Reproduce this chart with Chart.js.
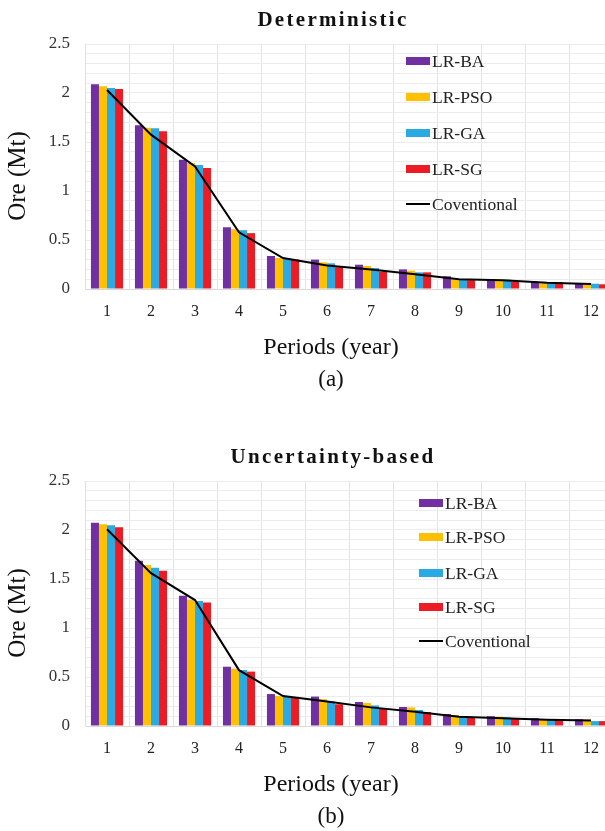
<!DOCTYPE html>
<html><head><meta charset="utf-8">
<script src="https://cdn.jsdelivr.net/npm/chart.js@4.4.0/dist/chart.umd.min.js"></script>
<style>
html,body{margin:0;padding:0;background:#fff;overflow:hidden;width:605px;height:831px}
#wrap{position:relative;width:605px;height:831px;overflow:hidden;background:#fff}
canvas{position:absolute;left:0}
</style></head><body>
<div id="wrap">
<canvas id="c1" width="613" height="437" style="top:0px"></canvas>
<canvas id="c2" width="613" height="394" style="top:437px"></canvas>
</div>
<script>
const categories = ['1','2','3','4','5','6','7','8','9','10','11','12'];
const seriesNames = ['LR-BA','LR-PSO','LR-GA','LR-SG','Coventional'];
const yTickLabels = ['0','0.5','1','1.5','2','2.5'];
const xAxisTitle = 'Periods (year)';
const yAxisTitle = 'Ore (Mt)';

// (a) Deterministic
const detBA  = [2.09, 1.67, 1.32, 0.63, 0.337, 0.30, 0.248, 0.20, 0.13, 0.10, 0.075, 0.061];
const detPSO = [2.07, 1.645, 1.286, 0.61, 0.316, 0.272, 0.235, 0.187, 0.10, 0.09, 0.058, 0.048];
const detGA  = [2.05, 1.64, 1.265, 0.60, 0.316, 0.262, 0.214, 0.17, 0.10, 0.095, 0.058, 0.054];
const detSG  = [2.04, 1.61, 1.235, 0.57, 0.30, 0.222, 0.177, 0.17, 0.09, 0.075, 0.068, 0.048];
const detConv= [2.03, 1.575, 1.25, 0.578, 0.316, 0.24, 0.20, 0.15, 0.10, 0.09, 0.065, 0.05];

// (b) Uncertainty-based
const uncBA  = [2.075, 1.687, 1.33, 0.605, 0.326, 0.30, 0.245, 0.194, 0.122, 0.10, 0.08, 0.068];
const uncPSO = [2.058, 1.643, 1.29, 0.585, 0.306, 0.273, 0.235, 0.19, 0.112, 0.095, 0.068, 0.065];
const uncGA  = [2.048, 1.615, 1.275, 0.571, 0.30, 0.25, 0.21, 0.163, 0.092, 0.088, 0.065, 0.05];
const uncSG  = [2.028, 1.585, 1.26, 0.555, 0.293, 0.222, 0.18, 0.143, 0.088, 0.07, 0.065, 0.05];
const uncConv= [2.007, 1.56, 1.285, 0.57, 0.306, 0.25, 0.19, 0.146, 0.095, 0.08, 0.065, 0.055];

const colors = ['#7030A0','#FFC000','#2AAAE2','#ED1C24','#000000'];
const FONT = '"Liberation Serif", "Times New Roman", serif';

function decor(cfg){
  return {
    id:'decor',
    afterDraw(chart){
      const ctx = chart.ctx;
      ctx.save();
      ctx.fillStyle = '#111';
      ctx.textAlign = 'center';
      ctx.textBaseline = 'alphabetic';
      ctx.font = 'bold 21px ' + FONT;
      if ('letterSpacing' in ctx) ctx.letterSpacing = '2.3px';
      ctx.fillText(cfg.title, 333, 26);
      if ('letterSpacing' in ctx) ctx.letterSpacing = '0px';
      ctx.font = '24px ' + FONT;
      ctx.fillText(xAxisTitle, 331, 354);
      ctx.font = '23px ' + FONT;
      ctx.fillText(cfg.caption, 331, 386);
      ctx.save();
      ctx.translate(18, 176);
      ctx.rotate(-Math.PI/2);
      ctx.font = '25px ' + FONT;
      ctx.textBaseline = 'middle';
      ctx.fillText(yAxisTitle, 0, 0);
      ctx.restore();
      // legend
      ctx.font = '17.5px ' + FONT;
      ctx.textAlign = 'left';
      ctx.textBaseline = 'middle';
      chart.data.datasets.forEach((ds, i) => {
        const y = cfg.legendRows[i];
        const x = cfg.legendX;
        if (ds.type === 'line') {
          ctx.fillStyle = ds.borderColor;
          ctx.fillRect(x, y - 1, 24, 2);
        } else {
          ctx.fillStyle = ds.backgroundColor;
          ctx.fillRect(x, y - 4, 24, 8);
        }
        ctx.fillStyle = '#222';
        ctx.fillText(ds.label, x + 26, y + 1);
      });
      ctx.restore();
    }
  };
}

function makeChart(id, arrs, cfg, canvasH){
  const datasets = arrs.slice(0,4).map((a,i) => ({
    type:'bar', label: seriesNames[i], data: a,
    backgroundColor: colors[i], borderWidth:0,
    categoryPercentage: 0.73, barPercentage: 1.0, order: 2
  }));
  datasets.push({
    type:'line', label: seriesNames[4], data: arrs[4],
    borderColor: colors[4], backgroundColor: colors[4], borderWidth: 2,
    pointRadius: 0, tension: 0, fill: false, order: 0
  });
  return new Chart(document.getElementById(id), {
    type:'bar',
    data:{ labels: categories, datasets },
    options:{
      responsive:false, animation:false,
      layout:{ padding:{ top:44, right:0, left:0, bottom:0 } },
      plugins:{ legend:{display:false}, title:{display:false}, tooltip:{enabled:false} },
      scales:{
        x:{
          grid:{ color:'#e3e3e3', lineWidth:1, drawTicks:false, offset:true },
          border:{ color:'#d9d9d9' },
          ticks:{ color:'#222', font:{ family: FONT, size:16 }, padding:13, maxRotation:0 },
          afterFit(s){ s.height = canvasH - 289; }
        },
        y:{
          min:0, max:2.5,
          grid:{ color:'#ececec', lineWidth:1, drawTicks:false },
          border:{ color:'#e0e0e0' },
          ticks:{
            stepSize:0.1, autoSkip:false, color:'#333', font:{ family: FONT, size:17 }, padding:15,
            callback(v){
              const k = Math.round(v*2);
              return Math.abs(v*2 - k) < 1e-6 ? yTickLabels[k] : '';
            }
          },
          afterFit(s){ s.width = 85; }
        }
      }
    },
    plugins:[decor(cfg)]
  });
}

makeChart('c1', [detBA, detPSO, detGA, detSG, detConv],
  { title:'Deterministic', caption:'(a)', legendX:406, legendRows:[61,97,133,169,204] }, 437);
makeChart('c2', [uncBA, uncPSO, uncGA, uncSG, uncConv],
  { title:'Uncertainty-based', caption:'(b)', legendX:419, legendRows:[66,100,136,170,204] }, 394);
</script>
</body></html>
